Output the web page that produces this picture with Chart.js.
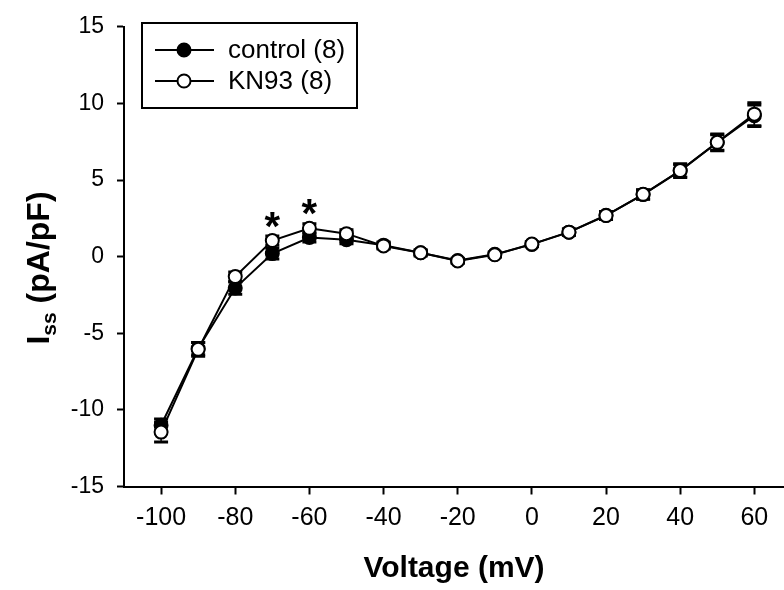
<!DOCTYPE html>
<html>
<head>
<meta charset="utf-8">
<script src="https://cdn.jsdelivr.net/npm/chart.js@4.4.0/dist/chart.umd.min.js"></script>
<style>
  html, body { margin: 0; padding: 0; background: #fff; }
  #wrap { width: 784px; height: 590px; }
</style>
</head>
<body>
<div id="wrap"><canvas id="chart"></canvas></div>
<script>
// voltages (mV)
const voltages = [-100, -90, -80, -70, -60, -50, -40, -30, -20, -10, 0, 10, 20, 30, 40, 50, 60];

// control (8): mean and SEM, pA/pF
const controlMean = [-11.0, -6.0, -2.05, 0.2, 1.25, 1.1, 0.75, 0.25, -0.25, 0.15, 0.8, 1.6, 2.7, 4.05, 5.6, 7.45, 9.2];
const controlSem = [0.4, 0.4, 0.4, 0.35, 0.3, 0.25, 0.2, 0.2, 0.15, 0.15, 0.15, 0.2, 0.25, 0.3, 0.4, 0.5, 0.7];

// KN93 (8): mean and SEM, pA/pF
const kn93Mean = [-11.45, -6.05, -1.3, 1.05, 1.85, 1.5, 0.7, 0.25, -0.28, 0.12, 0.82, 1.6, 2.68, 4.07, 5.62, 7.46, 9.3];
const kn93Sem = [0.65, 0.45, 0.3, 0.3, 0.3, 0.25, 0.2, 0.15, 0.15, 0.15, 0.15, 0.2, 0.25, 0.3, 0.45, 0.55, 0.75];

// voltages marked with *
const sigVoltages = [-70, -60];

const xTicks = [-100, -80, -60, -40, -20, 0, 20, 40, 60];
const yTicks = [-15, -10, -5, 0, 5, 10, 15];

const FONT = "Arial, 'Liberation Sans', sans-serif";

const toPoints = (ys) => voltages.map((v, i) => ({ x: v, y: ys[i] }));

// error bars, drawn under the markers
const errorBars = {
  id: "errorBars",
  beforeDatasetsDraw(chart) {
    const { ctx, scales: { x, y } } = chart;
    const sets = [[controlMean, controlSem], [kn93Mean, kn93Sem]];
    ctx.save();
    ctx.strokeStyle = "#000";
    sets.forEach(([mean, sem]) => {
      voltages.forEach((v, i) => {
        const px = x.getPixelForValue(v);
        const top = y.getPixelForValue(mean[i] + sem[i]);
        const bot = y.getPixelForValue(mean[i] - sem[i]);
        ctx.lineWidth = 1.5;
        ctx.beginPath();
        ctx.moveTo(px, top);
        ctx.lineTo(px, bot);
        ctx.stroke();
        ctx.lineWidth = 3;
        ctx.beginPath();
        ctx.moveTo(px - 7, top);
        ctx.lineTo(px + 7, top);
        ctx.moveTo(px - 7, bot);
        ctx.lineTo(px + 7, bot);
        ctx.stroke();
      });
    });
    ctx.restore();
  }
};

// legend box, asterisks and y title
const extras = {
  id: "extras",
  afterDraw(chart) {
    const { ctx, scales: { x, y } } = chart;
    ctx.save();

    // asterisks
    ctx.fillStyle = "#000";
    ctx.font = "bold 40px " + FONT;
    ctx.textAlign = "center";
    ctx.textBaseline = "middle";
    sigVoltages.forEach(v => {
      const i = voltages.indexOf(v);
      ctx.fillText("*", x.getPixelForValue(v), y.getPixelForValue(kn93Mean[i]) - 12);
    });

    // legend
    ctx.lineWidth = 2;
    ctx.strokeStyle = "#000";
    ctx.strokeRect(142, 23, 215, 85);
    const rows = [
      { label: "control (8)", fill: "#000", y: 50 },
      { label: "KN93 (8)", fill: "#fff", y: 81 }
    ];
    rows.forEach(r => {
      ctx.lineWidth = 2;
      ctx.beginPath();
      ctx.moveTo(155, r.y);
      ctx.lineTo(214, r.y);
      ctx.stroke();
      ctx.beginPath();
      ctx.arc(184, r.y, 6.5, 0, Math.PI * 2);
      ctx.fillStyle = r.fill;
      ctx.fill();
      ctx.stroke();
      ctx.fillStyle = "#000";
      ctx.font = "26px " + FONT;
      ctx.textAlign = "left";
      ctx.textBaseline = "middle";
      ctx.fillText(r.label, 228, r.y + 1);
    });

    // y title: I_ss (pA/pF)
    ctx.translate(38, 268);
    ctx.rotate(-Math.PI / 2);
    const big = "bold 32px " + FONT;
    const small = "bold 21px " + FONT;
    ctx.font = big;
    const wI = ctx.measureText("I").width;
    const wRest = ctx.measureText(" (pA/pF)").width;
    ctx.font = small;
    const wSub = ctx.measureText("ss").width;
    let cx = -(wI + wSub + wRest) / 2;
    ctx.textAlign = "left";
    ctx.textBaseline = "alphabetic";
    ctx.fillStyle = "#000";
    ctx.font = big;
    ctx.fillText("I", cx, 11);
    cx += wI;
    ctx.font = small;
    ctx.fillText("ss", cx, 18);
    cx += wSub;
    ctx.font = big;
    ctx.fillText(" (pA/pF)", cx, 11);

    ctx.restore();
  }
};

new Chart(document.getElementById("chart"), {
  type: "scatter",
  data: {
    datasets: [
      {
        label: "control (8)",
        data: toPoints(controlMean),
        showLine: true,
        borderColor: "#000",
        borderWidth: 2,
        pointRadius: 6.5,
        pointBorderWidth: 2,
        pointBackgroundColor: "#000",
        pointBorderColor: "#000",
        order: 2
      },
      {
        label: "KN93 (8)",
        data: toPoints(kn93Mean),
        showLine: true,
        borderColor: "#000",
        borderWidth: 2,
        pointRadius: 6.5,
        pointBorderWidth: 2,
        pointBackgroundColor: "#fff",
        pointBorderColor: "#000",
        order: 1
      }
    ]
  },
  options: {
    responsive: true,
    maintainAspectRatio: false,
    animation: false,
    layout: { autoPadding: false, padding: { top: 20, right: 0, left: 0, bottom: 0 } },
    plugins: {
      legend: { display: false },
      tooltip: { enabled: false }
    },
    scales: {
      x: {
        type: "linear",
        min: -110,
        max: 68,
        afterBuildTicks: axis => { axis.ticks = xTicks.map(v => ({ value: v })); },
        afterFit: axis => {
          axis.height = 103.5;
          axis.paddingLeft = 0;
          axis.paddingRight = 0;
        },
        grid: {
          drawOnChartArea: false,
          tickLength: 8,
          tickWidth: 2,
          tickColor: "#000"
        },
        border: { display: true, color: "#000", width: 2 },
        ticks: {
          color: "#000",
          font: { family: FONT, size: 25 },
          padding: 9,
          maxRotation: 0
        },
        title: {
          display: true,
          text: "Voltage (mV)",
          color: "#000",
          font: { family: FONT, size: 30, weight: "bold" },
          padding: { top: 0, bottom: 3 }
        }
      },
      y: {
        type: "linear",
        min: -15,
        max: 15,
        afterBuildTicks: axis => { axis.ticks = yTicks.map(v => ({ value: v })); },
        afterFit: axis => { axis.width = 124; },
        grid: {
          drawOnChartArea: false,
          tickLength: 7,
          tickWidth: 2,
          tickColor: "#000"
        },
        border: { display: true, color: "#000", width: 2 },
        ticks: {
          color: "#000",
          font: { family: FONT, size: 23 },
          padding: 13
        }
      }
    }
  },
  plugins: [errorBars, extras]
});
</script>
</body>
</html>
